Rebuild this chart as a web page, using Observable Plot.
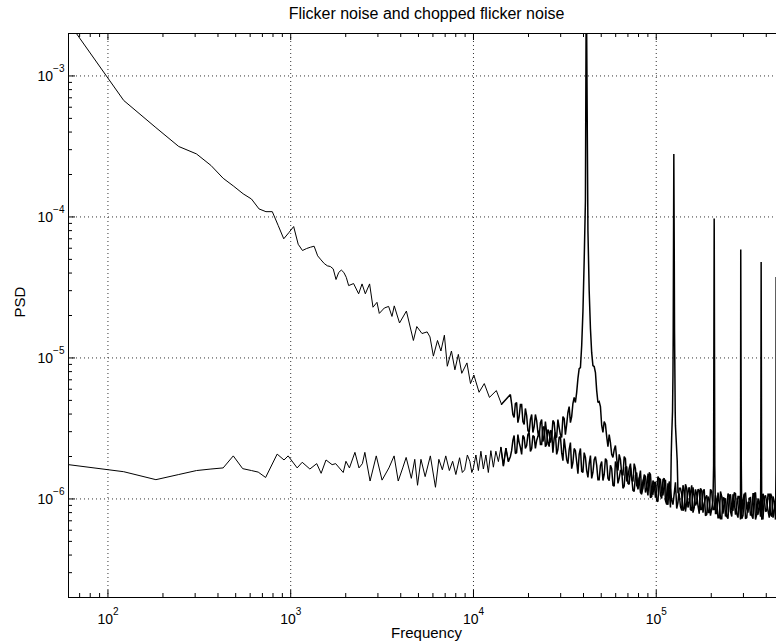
<!DOCTYPE html>
<html><head><meta charset="utf-8">
<script src="https://cdn.jsdelivr.net/npm/d3@7"></script>
<script src="https://cdn.jsdelivr.net/npm/@observablehq/plot@0.6"></script>
<style>html,body{margin:0;padding:0;background:#fff;overflow:hidden}</style>
</head><body><div id="chart"></div>
<script>
// ---- text ----
const titleText = "Flicker noise and chopped flicker noise";
const xLabelText = "Frequency";
const yLabelText = "PSD";

// ---- axes ----
const xDomain = [60.84, 455000];
const yDomain = [2e-7, 2e-3];
const xMajorTicks = [100, 1000, 10000, 100000];
const xTickExp = ["2", "3", "4", "5"];
const yMajorTicks = [1e-3, 1e-4, 1e-5, 1e-6];
const yTickExp = ["\u22123", "\u22124", "\u22125", "\u22126"];
const xMinorTicks = [70, 80, 90, 200, 300, 400, 500, 600, 700, 800, 900,
  2000, 3000, 4000, 5000, 6000, 7000, 8000, 9000,
  20000, 30000, 40000, 50000, 60000, 70000, 80000, 90000,
  200000, 300000, 400000];
const yMinorTicks = [3e-7, 4e-7, 5e-7, 6e-7, 7e-7, 8e-7, 9e-7,
  2e-6, 3e-6, 4e-6, 5e-6, 6e-6, 7e-6, 8e-6, 9e-6,
  2e-5, 3e-5, 4e-5, 5e-5, 6e-5, 7e-5, 8e-5, 9e-5,
  2e-4, 3e-4, 4e-4, 5e-4, 6e-4, 7e-4, 8e-4, 9e-4];

// ---- flicker noise, low frequencies ----
const flickerFreq = [61, 122, 183, 244, 305, 366, 427, 488, 549, 610,
  671, 732, 793, 854, 916, 977, 1038, 1099, 1160, 1221,
  1282, 1343, 1404, 1465, 1526, 1587, 1648, 1709, 1770, 1831,
  1892, 1953, 2014, 2075, 2208, 2353, 2457, 2560, 2702, 2820,
  2965, 3053, 3252, 3433, 3582, 3686, 3939, 4295, 4691, 4897,
  5227, 5578, 5781, 6035, 6357, 6637, 6932, 7192, 7576, 7914,
  8265, 8627, 9210, 9633, 10050, 10730, 11460, 12230, 13340, 14240];
const flickerPsd = [2.39e-3, 6.7e-4, 4.3e-4, 3.16e-4, 2.8e-4, 2.32e-4, 1.88e-4, 1.65e-4, 1.46e-4, 1.34e-4,
  1.14e-4, 1.09e-4, 1.09e-4, 8.7e-5, 7.0e-5, 7.74e-5, 8.55e-5, 6.4e-5, 5.78e-5, 5.97e-5,
  6.1e-5, 6.2e-5, 5.3e-5, 4.96e-5, 4.67e-5, 4.5e-5, 4.45e-5, 4.28e-5, 3.6e-5, 4.04e-5,
  4.2e-5, 4.04e-5, 3.73e-5, 3.26e-5, 3.37e-5, 2.85e-5, 3.35e-5, 2.85e-5, 3.35e-5, 2.29e-5,
  2.48e-5, 2.07e-5, 2.26e-5, 2.32e-5, 1.97e-5, 2.34e-5, 1.77e-5, 2.15e-5, 1.33e-5, 1.67e-5,
  1.49e-5, 1.53e-5, 1.41e-5, 1.03e-5, 1.33e-5, 1.12e-5, 1.45e-5, 8.73e-6, 1.12e-5, 8.24e-6,
  1.06e-5, 7.78e-6, 9.22e-6, 6.58e-6, 7.57e-6, 5.71e-6, 6.58e-6, 5.25e-6, 5.87e-6, 4.69e-6];

// ---- chopped flicker noise, low frequencies ----
const choppedFreq = [61, 122, 183, 244, 305, 366, 427, 485, 546, 610,
  664, 729, 843, 919, 968, 1085, 1156, 1273, 1388, 1467,
  1560, 1685, 1762, 1938, 2005, 2096, 2246, 2364, 2467, 2545,
  2718, 2938, 3161, 3446, 3679, 3875, 4101, 4282, 4571, 4772,
  4943, 5160, 5440, 5808, 6195, 6466, 6756, 7053, 7380, 7692,
  8009, 8395, 8690, 8950, 9260, 9550, 9795, 9990, 10310, 10640,
  10980, 11330, 11690, 12060, 12450, 12850, 13260, 13690, 14130, 14580,
  15050, 15520];
const choppedPsd = [1.75e-6, 1.56e-6, 1.37e-6, 1.49e-6, 1.59e-6, 1.63e-6, 1.66e-6, 2.02e-6, 1.64e-6, 1.59e-6,
  1.55e-6, 1.42e-6, 2.08e-6, 1.89e-6, 2.02e-6, 1.66e-6, 1.82e-6, 1.63e-6, 1.78e-6, 1.52e-6,
  1.89e-6, 1.75e-6, 1.78e-6, 1.54e-6, 1.85e-6, 1.66e-6, 2.14e-6, 1.66e-6, 1.78e-6, 2.14e-6,
  1.34e-6, 2.02e-6, 1.36e-6, 1.66e-6, 2.02e-6, 1.34e-6, 1.66e-6, 1.97e-6, 1.40e-6, 1.91e-6,
  1.25e-6, 1.91e-6, 1.44e-6, 2.02e-6, 1.21e-6, 1.91e-6, 1.61e-6, 2.02e-6, 1.59e-6, 1.85e-6,
  1.49e-6, 1.96e-6, 1.54e-6, 1.61e-6, 2.05e-6, 1.85e-6, 1.54e-6, 1.66e-6, 2.05e-6, 1.59e-6,
  2.18e-6, 1.63e-6, 2.05e-6, 1.54e-6, 2.2e-6, 1.68e-6, 2.18e-6, 1.84e-6, 2.32e-6, 1.71e-6,
  2.29e-6, 1.84e-6];

// ---- dense high-frequency band: frequencies shared by both series ----
const bandFreq = [15920, 16430, 16950, 17500, 18060, 18640, 19230, 19850, 20490, 21140,
  21820, 22520, 23240, 23980, 24750, 25540, 26360, 27200, 28070, 28970,
  29900, 30860, 31840, 32860, 33920, 35000, 36120, 37280, 38480, 39710,
  40980, 42290, 43650, 45040, 46490, 47970, 49510, 51090, 52730, 54420,
  56160, 57960, 59810, 61730, 63700, 65740, 67840, 70010, 72260, 74570,
  76950, 79420, 81970, 84590, 87300, 90090, 92970, 95950, 99020, 102190,
  105450, 108830, 112310, 115910, 119630, 123450, 127400, 131480, 135700, 140040,
  144520, 149150, 153930, 158850, 163940, 169180, 174600, 180190, 185960, 191910,
  198080, 204420, 210960, 217720, 224680, 231870, 239300, 246960, 254850, 263010,
  271430, 280120, 289100, 298350, 307900, 317750, 327930, 338430, 349260, 360440,
  371990, 383890, 396180, 408860, 421970, 435470, 449410];
const bandFreqMid = [16170, 16690, 17220, 17780, 18350, 18940, 19540, 20170, 20820, 21480,
  22170, 22880, 23610, 24360, 25140, 25950, 26780, 27630, 28520, 29430,
  30380, 31350, 32350, 33380, 34460, 35560, 36690, 37870, 39090, 40340,
  41630, 42960, 44340, 45760, 47230, 48730, 50300, 51900, 53570, 55280,
  57050, 58880, 60760, 62710, 64710, 66780, 68920, 71120, 73410, 75750,
  78170, 80680, 83270, 85930, 88690, 91520, 94450, 97470, 100590, 103810,
  107120, 110560, 114090, 117750, 121530, 125410, 129420, 133570, 137860, 142260,
  146820, 151520, 156370, 161370, 166540, 171870, 177370, 183050, 188910, 194960,
  201230, 207670, 214310, 221180, 228250, 235550, 243100, 250880, 258900, 267190,
  275740, 284570, 293690, 303090, 312790, 322800, 333140, 343800, 354810, 366160,
  377900, 389990, 402470, 415350, 428670, 442390];
const flickerBand = [5.50e-6, 3.97e-6, 4.75e-6, 3.48e-6, 4.67e-6, 3.54e-6, 4.38e-6, 3.06e-6, 3.66e-6, 2.96e-6,
  3.97e-6, 2.96e-6, 3.48e-6, 2.55e-6, 3.54e-6, 2.51e-6, 3.06e-6, 2.13e-6, 2.96e-6, 2.24e-6,
  2.77e-6, 1.87e-6, 2.28e-6, 1.78e-6, 2.51e-6, 1.81e-6, 2.20e-6, 1.51e-6, 2.28e-6, 1.54e-6,
  1.97e-6, 1.42e-6, 2.03e-6, 1.54e-6, 2.00e-6, 1.37e-6, 1.73e-6, 1.35e-6, 1.93e-6, 1.40e-6,
  1.73e-6, 1.25e-6, 1.84e-6, 1.29e-6, 1.59e-6, 1.19e-6, 1.67e-6, 1.29e-6, 1.67e-6, 1.15e-6,
  1.47e-6, 1.17e-6, 1.59e-6, 1.19e-6, 1.44e-6, 1.06e-6, 1.49e-6, 1.08e-6, 1.31e-6, 9.58e-7,
  1.37e-6, 1.06e-6, 1.37e-6, 9.12e-7, 1.17e-6, 9.12e-7, 1.31e-6, 9.43e-7, 1.19e-6, 8.27e-7,
  1.27e-6, 8.69e-7, 1.11e-6, 8.00e-7, 1.17e-6, 8.98e-7, 1.19e-6, 8.00e-7, 1.02e-6, 8.00e-7,
  1.17e-6, 8.41e-7, 1.06e-6, 7.37e-7, 1.13e-6, 7.87e-7, 1.01e-6, 7.25e-7, 1.08e-6, 8.27e-7,
  1.09e-6, 7.37e-7, 9.58e-7, 7.62e-7, 1.11e-6, 8.00e-7, 1.02e-6, 7.25e-7, 1.11e-6, 7.75e-7,
  1.01e-6, 7.25e-7, 1.06e-6, 8.27e-7, 1.09e-6, 7.37e-7, 9.58e-7];
const flickerBandMid = [4.75e-6, 3.78e-6, 4.83e-6, 3.84e-6, 4.67e-6, 3.37e-6, 3.90e-6, 2.96e-6, 3.97e-6, 3.26e-6,
  3.60e-6, 2.77e-6, 3.66e-6, 2.77e-6, 2.96e-6, 2.35e-6, 3.01e-6, 2.68e-6, 2.07e-6, 2.73e-6,
  2.13e-6, 2.68e-6, 1.90e-6, 2.24e-6, 1.64e-6, 2.28e-6, 1.84e-6, 2.07e-6, 1.57e-6, 2.13e-6,
  1.59e-6, 1.78e-6, 1.40e-6, 1.90e-6, 1.73e-6, 1.37e-6, 1.84e-6, 1.49e-6, 1.87e-6, 1.35e-6,
  1.64e-6, 1.23e-6, 1.73e-6, 1.40e-6, 1.59e-6, 1.23e-6, 1.70e-6, 1.27e-6, 1.42e-6, 1.13e-6,
  1.54e-6, 1.40e-6, 1.11e-6, 1.49e-6, 1.21e-6, 1.54e-6, 1.09e-6, 1.31e-6, 9.74e-7, 1.40e-6,
  1.11e-6, 1.27e-6, 9.43e-7, 1.33e-6, 9.74e-7, 1.09e-6, 8.55e-7, 1.19e-6, 1.08e-6, 8.55e-7,
  1.19e-6, 9.43e-7, 1.25e-6, 8.69e-7, 1.08e-6, 7.87e-7, 1.15e-6, 9.27e-7, 1.06e-6, 8.00e-7,
  1.13e-6, 8.41e-7, 9.43e-7, 7.37e-7, 1.04e-6, 9.43e-7, 7.50e-7, 1.04e-6, 8.41e-7, 1.11e-6,
  7.87e-7, 9.74e-7, 7.25e-7, 1.06e-6, 8.55e-7, 1.01e-6, 7.62e-7, 1.09e-6, 8.00e-7, 9.12e-7,
  7.25e-7, 1.02e-6, 9.43e-7, 7.37e-7, 1.04e-6, 8.41e-7];
const choppedBand = [2.00e-6, 2.60e-6, 2.10e-6, 2.86e-6, 2.32e-6, 2.82e-6, 2.28e-6, 2.86e-6, 2.17e-6, 2.82e-6,
  2.28e-6, 2.77e-6, 2.43e-6, 3.21e-6, 2.35e-6, 3.11e-6, 2.51e-6, 3.60e-6, 2.77e-6, 3.66e-6,
  2.86e-6, 3.84e-6, 2.86e-6, 4.10e-6, 3.48e-6, 4.75e-6, 4.83e-6, 7.14e-6, 8.55e-6, 2.13e-5,
  1.31e-4, 8.01e-5, 1.62e-5, 8.83e-6, 7.88e-6, 4.83e-6, 4.52e-6, 2.96e-6, 3.37e-6, 2.35e-6,
  2.51e-6, 1.97e-6, 2.39e-6, 1.59e-6, 1.90e-6, 1.47e-6, 1.93e-6, 1.44e-6, 1.78e-6, 1.33e-6,
  1.64e-6, 1.19e-6, 1.11e-6, 1.35e-6, 1.11e-6, 1.49e-6, 1.02e-6, 1.35e-6, 1.02e-6, 1.44e-6,
  1.06e-6, 1.37e-6, 9.74e-7, 1.29e-6, 8.69e-7, 7.50e-6, 3.31e-6, 1.11e-6, 8.83e-7, 1.25e-6,
  8.14e-7, 1.13e-6, 8.41e-7, 1.21e-6, 8.98e-7, 1.17e-6, 8.41e-7, 1.13e-6, 7.62e-7, 1.04e-6,
  7.62e-7, 9.74e-7, 7.87e-7, 1.11e-6, 7.25e-7, 1.02e-6, 7.50e-7, 1.09e-6, 8.14e-7, 1.08e-6,
  7.75e-7, 1.04e-6, 7.14e-7, 9.74e-7, 7.25e-7, 9.43e-7, 7.62e-7, 1.09e-6, 7.14e-7, 1.01e-6,
  7.50e-7, 1.09e-6, 8.14e-7, 1.08e-6, 7.75e-7, 1.04e-6, 7.14e-7];
const choppedBandMid = [2.20e-6, 2.82e-6, 2.13e-6, 2.51e-6, 2.07e-6, 2.73e-6, 2.39e-6, 2.96e-6, 2.28e-6, 2.77e-6,
  2.60e-6, 3.06e-6, 2.43e-6, 3.26e-6, 2.43e-6, 2.96e-6, 2.73e-6, 3.48e-6, 2.73e-6, 3.21e-6,
  2.73e-6, 3.72e-6, 3.37e-6, 4.52e-6, 3.84e-6, 5.24e-6, 5.68e-6, 8.41e-6, 1.22e-5, 4.91e-5,
  2.0e-3, 3.01e-5, 1.09e-5, 8.69e-6, 5.87e-6, 4.91e-6, 3.32e-6, 3.54e-6, 2.77e-6, 2.86e-6,
  2.07e-6, 2.24e-6, 1.93e-6, 2.07e-6, 1.51e-6, 2.00e-6, 1.33e-6, 1.64e-6, 1.37e-6, 1.78e-6,
  1.25e-6, 1.42e-6, 1.08e-6, 1.44e-6, 1.19e-6, 1.47e-6, 1.04e-6, 1.29e-6, 1.15e-6, 1.37e-6,
  1.01e-6, 1.40e-6, 9.12e-7, 1.15e-6, 2.82e-6, 6.8e-5, 2.20e-6, 1.08e-6, 8.27e-7, 1.15e-6,
  9.43e-7, 1.21e-6, 8.27e-7, 1.06e-6, 9.43e-7, 1.15e-6, 8.41e-7, 1.17e-6, 7.75e-7, 9.90e-7,
  8.55e-7, 8.0e-5, 7.87e-7, 9.43e-7, 7.25e-7, 1.01e-6, 8.41e-7, 1.06e-6, 7.50e-7, 9.58e-7,
  8.69e-7, 1.04e-6, 7.87e-7, 1.09e-6, 7.37e-7, 9.43e-7, 8.14e-7, 1.09e-6, 7.75e-7, 9.12e-7,
  7.14e-7, 1.01e-6, 8.27e-7, 1.08e-6, 7.50e-7, 9.58e-7];

// ---- chopper harmonics (spikes in chopped series) ----
const spikeFreq = [41500, 120780, 122770, 123860, 124800, 125900, 127000, 130230,
  206000, 207500, 209000, 290000, 292000, 373200, 375000, 377000, 452000, 453000, 454500];
const spikePsd = [1e-2, 2.03e-6, 4.17e-6, 1.56e-5, 2.79e-4, 1.56e-5, 4.17e-6, 1.87e-6,
  1.73e-6, 9.75e-5, 1.73e-6, 5.88e-5, 1.73e-6, 1.59e-6, 4.8e-5, 1.59e-6, 1.59e-6, 3.75e-5, 1.59e-6];

// ---- build tables ----
const pairs = (fs, ps) => fs.slice(0, Math.min(fs.length, ps.length)).map((f, i) => ({f, p: ps[i]}));
const byFreq = (a, b) => a.f - b.f;
const flickerData = pairs(flickerFreq, flickerPsd)
  .concat(pairs(bandFreq, flickerBand), pairs(bandFreqMid, flickerBandMid))
  .sort(byFreq);
const choppedData = pairs(choppedFreq, choppedPsd)
  .concat(pairs(bandFreq, choppedBand), pairs(bandFreqMid, choppedBandMid), pairs(spikeFreq, spikePsd))
  .sort(byFreq);
// where the FFT bins are packed closer than a pixel the trace renders as a solid band
const split = 14000;
const lowPart = d => d.f <= split + 1600;
const highPart = d => d.f >= split;

const W = 776, H = 643, MT = 33, MB = 46, ML = 68, MR = 0;
const FH = H - MT - MB, FW = W - ML - MR;
const majorLen = 7, minorLen = 4;
const font = '"Liberation Sans", Arial, Helvetica, sans-serif';
const lineOpts = {x: "f", y: "p", stroke: "#000", strokeWidth: 1, clip: true};
const bandOpts = {...lineOpts, strokeWidth: 1.5, strokeLinejoin: "miter", strokeMiterlimit: 2};

const svg = Plot.plot({
  width: W, height: H,
  marginTop: MT, marginBottom: MB, marginLeft: ML, marginRight: MR,
  style: {fontFamily: font, background: "#fff", color: "#000", overflow: "visible"},
  x: {type: "log", domain: xDomain, axis: null},
  y: {type: "log", domain: yDomain, axis: null},
  marks: [
    // dotted grid
    Plot.ruleX(xMajorTicks, {stroke: "#333", strokeWidth: 1, strokeDasharray: "1,3"}),
    Plot.ruleY(yMajorTicks, {stroke: "#333", strokeWidth: 1, strokeDasharray: "1,3"}),
    // data
    Plot.line(choppedData.filter(lowPart), lineOpts),
    Plot.line(flickerData.filter(lowPart), lineOpts),
    Plot.line(choppedData.filter(highPart), bandOpts),
    Plot.line(flickerData.filter(highPart), bandOpts),
    // box (left, bottom, top)
    Plot.ruleX([xDomain[0]], {stroke: "#000", strokeWidth: 1}),
    Plot.ruleY([yDomain[0], yDomain[1]], {stroke: "#000", strokeWidth: 1}),
    // ticks (inward)
    Plot.ruleX(xMajorTicks, {stroke: "#000", insetTop: FH - majorLen}),
    Plot.ruleX(xMajorTicks, {stroke: "#000", insetBottom: FH - majorLen}),
    Plot.ruleX(xMinorTicks, {stroke: "#000", insetTop: FH - minorLen}),
    Plot.ruleX(xMinorTicks, {stroke: "#000", insetBottom: FH - minorLen}),
    Plot.ruleY(yMajorTicks, {stroke: "#000", insetRight: FW - majorLen}),
    Plot.ruleY(yMinorTicks, {stroke: "#000", insetRight: FW - minorLen}),
    // tick labels
    Plot.text(xMajorTicks, {x: d => d, text: (d, i) => "10^" + xTickExp[i], frameAnchor: "bottom",
      lineAnchor: "bottom", dy: 26, fontSize: 14, fill: "#000"}),
    Plot.text(yMajorTicks, {y: d => d, text: (d, i) => "10^" + yTickExp[i], frameAnchor: "left",
      textAnchor: "end", lineAnchor: "bottom", dx: -4, dy: 5, fontSize: 14, fill: "#000"}),
    // axis labels and title
    Plot.text([xLabelText], {frameAnchor: "bottom", lineAnchor: "bottom", dx: 4, dy: 40, fontSize: 15, fill: "#000"}),
    Plot.text([yLabelText], {frameAnchor: "left", rotate: -90, lineAnchor: "middle", dx: -48, dy: 2, fontSize: 15, fill: "#000"}),
    Plot.text([titleText], {frameAnchor: "top", lineAnchor: "bottom", dx: 4, dy: -15, fontSize: 16, fill: "#000"})
  ]
});

// superscript exponents on tick labels
d3.select(svg).selectAll("text").each(function () {
  const s = this.textContent;
  const k = s.indexOf("^");
  if (k < 0) return;
  const t = d3.select(this);
  t.text(null);
  t.append("tspan").text(s.slice(0, k));
  t.append("tspan").attr("dy", -8.5).attr("font-size", 10).text(s.slice(k + 1));
});

document.getElementById("chart").appendChild(svg);
</script>
</body></html>
